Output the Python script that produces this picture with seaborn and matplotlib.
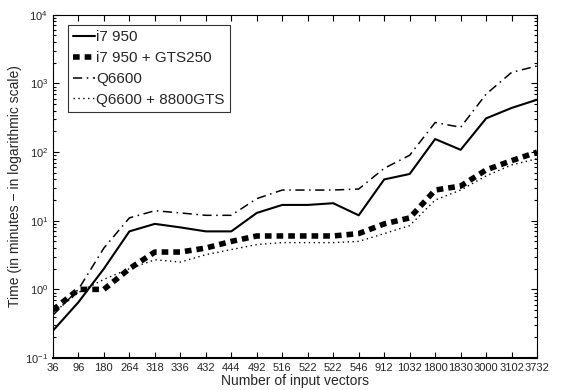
import pandas as pd
import seaborn as sns
import matplotlib.pyplot as plt
import numpy as np
from matplotlib.ticker import LogLocator, NullFormatter

vectors = ['36', '96', '180', '264', '318', '336', '432', '444', '492', '516',
           '522', '522', '546', '912', '1032', '1800', '1830', '3000', '3102', '3732']
i7 = [0.25, 0.65, 2.0, 7, 9, 8, 7, 7, 13, 17, 17, 18, 12, 40, 48, 155, 108, 310, 440, 580]
i7_gts250 = [0.5, 1.0, 1.0, 2.0, 3.5, 3.5, 4.0, 5.0, 6.0, 6.0, 6.0, 6.0, 6.5, 9, 11, 28, 32, 55, 75, 100]
q6600 = [0.42, 1.0, 4.0, 11, 14, 13, 12, 12, 21, 28, 28, 28, 29, 58, 90, 270, 230, 700, 1450, 1800]
q6600_8800 = [0.45, 0.9, 1.4, 2.0, 2.7, 2.5, 3.2, 3.8, 4.5, 4.8, 4.8, 4.8, 5.0, 6.5, 8.5, 20, 28, 45, 65, 80]

names = ['i7 950', 'i7 950 + GTS250', 'Q6600', 'Q6600 + 8800GTS']
series = [i7, i7_gts250, q6600, q6600_8800]
styles = [dict(linestyle='-', linewidth=1.5),
          dict(linestyle=(0, (1.2, 0.9)), linewidth=4.0),
          dict(linestyle=(0, (6, 3, 1, 3)), linewidth=1.1),
          dict(linestyle=(0, (1, 2.5)), linewidth=1.0)]

sns.set_style('white')
plt.rcParams['font.family'] = ['Liberation Sans', 'DejaVu Sans']
plt.rcParams['mathtext.fontset'] = 'custom'
plt.rcParams['mathtext.rm'] = 'Liberation Sans'

fig = plt.figure(figsize=(5.63, 3.9), dpi=100)
ax = fig.add_axes([0.094, 0.082, 0.860, 0.880])

pos = np.arange(len(vectors))
for name, vals, st in zip(names, series, styles):
    df = pd.DataFrame({'pos': pos, 'time': vals})
    sns.lineplot(data=df, x='pos', y='time', ax=ax, color='black', label=name, **st)

ax.set_yscale('log')
ax.set_ylim(0.1, 1e4)
ax.set_xlim(0, len(vectors) - 1)
ax.set_xticks(pos)
ax.set_xticklabels(vectors, fontsize=8)
ax.yaxis.set_minor_locator(LogLocator(base=10, subs=np.arange(2, 10), numticks=20))
ax.yaxis.set_minor_formatter(NullFormatter())
ax.tick_params(axis='y', labelsize=8)
ax.tick_params(which='both', direction='in', top=True, right=True,
               bottom=True, left=True, color='black', width=0.8)
ax.tick_params(which='major', length=4)
ax.tick_params(which='minor', length=2)
ax.set_xlabel('Number of input vectors', fontsize=10, labelpad=1)
ax.set_ylabel('Time (in minutes \u2212 in logarithmic scale)', fontsize=10, labelpad=2)
for s in ax.spines.values():
    s.set_color('black')
    s.set_linewidth(0.8)
ax.spines['bottom'].set_linewidth(1.5)

leg = ax.legend(loc='upper left', fontsize=11, frameon=True, fancybox=False,
                handlelength=1.4, handletextpad=0.1, borderpad=0.35,
                labelspacing=0.45, borderaxespad=0,
                bbox_to_anchor=(0.031, 0.971))
leg.get_frame().set_edgecolor('black')
leg.get_frame().set_linewidth(0.8)

fig.savefig('out.png', dpi=100)
